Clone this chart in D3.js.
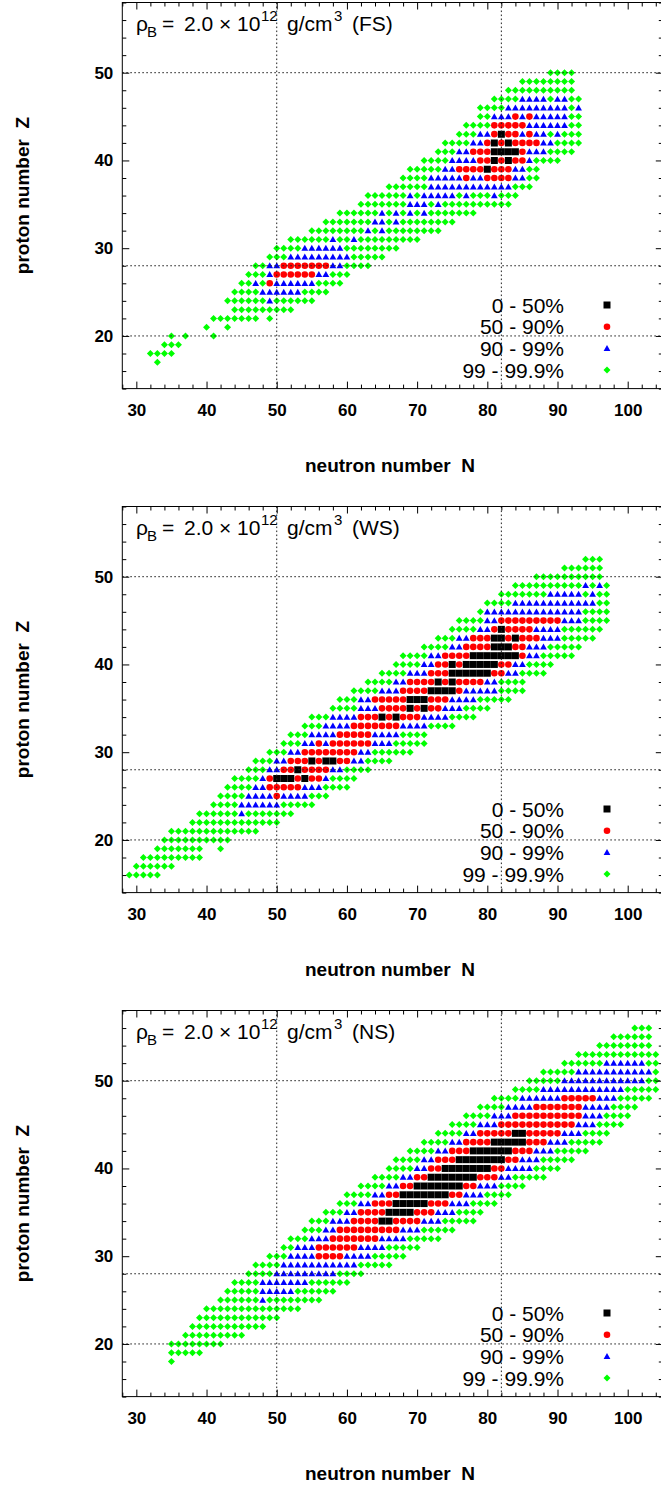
<!DOCTYPE html>
<html><head><meta charset="utf-8">
<script src="https://cdn.jsdelivr.net/npm/d3@7"></script>
<style>body{margin:0;background:#fff}svg{display:block}</style>
</head><body>
<svg id="c" width="661" height="1486"></svg>
<script>
// ---------- data ----------
const categories = ["0 - 50%", "50 - 90%", "90 - 99%", "99 - 99.9%"];
const categoryCodes = ["k", "r", "b", "g"];
const categoryColors = ["#000000", "#ff0000", "#0000ff", "#00ff00"];
const panelNames = ["FS", "WS", "NS"];
const xTickValues = [30, 40, 50, 60, 70, 80, 90, 100];
const yTickValues = [20, 30, 40, 50];
const gridN = [50, 82];
const gridZ = [20, 28, 50];

// each row: [Z, first N, category code per successive N ('.' = none)]
const rowsFS = [
  [17,33,"g"],[18,32,"gggg"],[19,34,"ggg"],[20,35,"g.g...g"],[21,40,"g..g"],
  [22,41,"ggggggg.g"],[23,44,"ggggggggg"],[24,43,"ggggggbgggggg"],
  [25,44,"ggggbbbbbbgggg"],[26,45,"ggbgrbbbbbbgggg"],[27,46,"gggbrrrrrrbbggg"],
  [28,47,"ggbbrrrrrrrbbgggg"],[29,49,"gggbbbbbbbbbggggg"],[30,50,"ggggbbbbbbgggggggg"],
  [31,52,"ggggggbggbggggggggg"],[32,55,"ggggggggbgbgggggggg"],[33,57,"gggggggbbgbgggggggg"],
  [34,59,"ggggggbgbgbgbggggggg"],[35,62,"gggggggbbbgbgggggggggg"],
  [36,63,"ggggggbgbbbbbgbgggbggg"],[37,66,"ggggggbbbbbbbbbbbbggg"],
  [38,68,"ggggbbbbbrbbrrrrbbgg"],[39,69,"gggggbbrrrrkrrrbbgg"],
  [40,71,"ggggbbbbrrkrkrrbgggg"],[41,73,"gggbbrrrkkkkrbbbgggg"],
  [42,74,"ggggbbrkrkrrrrbbgggg"],[43,76,"gggbbrkrrbrbbgbggg"],
  [44,77,"ggggrrrrrbbbbbbgg"],[45,79,"ggbbbrbrbbbbbgg"],[46,79,"ggggbbbbbbbbbgb"],
  [47,81,"ggggbbbbgbbgg"],[48,83,"gggggggggg"],[49,85,"gggggggg"],[50,89,"gggg"]
];
const rowsWS = [
  [16,29,"ggggg"],[17,30,"gggggg"],[18,31,"ggggggggg"],[19,33,"ggggggg..g"],
  [20,34,"gggggggggg"],[21,35,"ggggggggggggg"],[22,38,"ggggggggggggg"],
  [23,39,"ggggggbggggggg"],[24,41,"ggggbbbbbbggggg"],[25,42,"ggggbbbbrbbbbggg"],
  [26,43,"ggggbbrrrrrbbbgggg"],[27,44,"ggggbrkkkrkrrbgggg"],[28,46,"gggbbrrkrrrrbbgggg"],
  [29,47,"gggbbrrrkrkkrrbbgggg"],[30,49,"gggbbrrrrrrrrbbgggggg"],
  [31,51,"gggbbrbrrrrrrbbbggggg"],[32,52,"gggbbbbrrrrrbbbbgggg"],
  [33,54,"gggbbbbrrrrrrrbbbbgggg"],[34,55,"gggbbbbrrrkrkrrrbbbbgggg"],
  [35,58,"ggggbbbrrrrkrkrrbbbgggg"],[36,59,"gggbbrrrrrkkkrrrbbbbggggg"],
  [37,61,"ggggbbbrrrrkkkkrbbbbbgggg"],[38,63,"ggggbbrrrrkrkrrrrbbgggg"],
  [39,65,"ggggbbbrrrkkkkkkrrbbgggg"],[40,67,"ggggbbrrkrkkkkkrrbbgggg"],
  [41,68,"ggggbbrrrrkkkkkkkrbbggggg"],[42,71,"ggggbbrrrrkkkrrbbbggggg"],
  [43,73,"gggbbrrrkkrkrrrbbbggggg"],[44,75,"ggggbbrkrrrrbbbbgggggg"],
  [45,76,"ggggbbrrrrrrrrrbbbgggg"],[46,79,"gbbbbbbbbbbbbbbgggg"],
  [47,80,"ggggbbbbbbbbbbbbgg"],[48,82,"gggggggbbbbbgbgg"],[49,84,"ggggggggggbgbg"],
  [50,87,"gggggggggg"],[51,91,"gggggg"],[52,94,"ggg"]
];
const rowsNS = [
  [18,35,"g"],[19,35,"ggggg"],[20,35,"gggggggg"],[21,37,"ggggggggg"],
  [22,38,"ggggggggggg"],[23,39,"gggggggggggg"],[24,40,"gggggggggggggg"],
  [25,42,"ggggggbgggggggg"],[26,43,"gggggbbbbbgggggg"],[27,44,"ggggbbbbbbbgggggg"],
  [28,46,"ggggbbbbbbbbbgggg"],[29,47,"ggggbbbbbbbbbbbggggg"],
  [30,49,"gggbbbbrrrrbbbbggggg"],[31,51,"ggbbbrrrrrrbbbbggggg"],
  [32,52,"gggbbbrrrrrrrbbbbggggg"],[33,54,"gggbbrrrrrrrrrbbbggggg"],
  [34,55,"gggbbbrrrrkkrrrrbbbggggg"],[35,57,"gggbbrrrrkkkkrrrbbbgggg"],
  [36,59,"gggbbrrrkkkkkrrrbbbgggg"],[37,60,"ggggbbrrkkkkkkkrrbbbgggg"],
  [38,62,"ggggbbrrkkkkkkkrrbbbgggg"],[39,64,"ggggbbrrkkkkkkkrrrbbggggg"],
  [40,66,"ggggbbrrkkkkkkkrrbbbbgggg"],[41,67,"ggggbbrrrkkkkkkkrrbbbggggg"],
  [42,69,"ggggbbrrrkkkkkkrrrbbbggggg"],[43,71,"ggggbbrrrrkkkkkrrrbbbggggg"],
  [44,73,"ggggbbrrrrrkkrrrrrbbbgggg"],[45,75,"ggggbbbrrrrrrrrrrrbbbgggg"],
  [46,77,"ggggbbbrrrrrrrrrrbbbgggg"],[47,79,"ggggbbbbrrrrrrrbbbbgggg"],
  [48,81,"ggggbbbbbbrrrrrbbbggggg"],[49,84,"ggggbbbbbbbbbbbbggggg"],
  [50,86,"gggggbbbbbbbbbbbbgg"],[51,88,"gggggbbbbbbbbbbbg"],[52,91,"ggggggbbbbbbgg"],
  [53,93,"gggggggggggg"],[54,96,"gggggggg"],[55,98,"gggggg"],[56,101,"ggg"]
];
const panelRows = [rowsFS, rowsWS, rowsNS];

// ---------- layout ----------
const FONT = "'Liberation Sans', Arial, Helvetica, sans-serif";
const panelStep = 504;
const x = d3.scaleLinear().domain([28, 105]).range([122.3, 662.8]);
const y = d3.scaleLinear().domain([14, 58]).range([388.6, 2.5]);
const svg = d3.select("#c");

function expand(rows) {
  const pts = [];
  rows.forEach(([Z, N0, s]) => {
    for (let i = 0; i < s.length; i++) {
      const c = s[i];
      if (c === ".") continue;
      pts.push({N: N0 + i, Z: Z, cat: categoryCodes.indexOf(c)});
    }
  });
  return pts;
}

function shape(cat) {
  const p = d3.path();
  if (cat === 0) { p.rect(-3.5, -3.5, 7, 7); }
  else if (cat === 1) { p.arc(0, 0, 3.3, 0, 2 * Math.PI); }
  else if (cat === 2) { p.moveTo(0, -3.4); p.lineTo(3.4, 2.6); p.lineTo(-3.4, 2.6); p.closePath(); }
  else { p.moveTo(0, -3.5); p.lineTo(3.5, 0); p.lineTo(0, 3.5); p.lineTo(-3.5, 0); p.closePath(); }
  return p.toString();
}

panelNames.forEach((name, pi) => {
  const g = svg.append("g").attr("transform", `translate(0,${pi * panelStep})`);
  const pts = expand(panelRows[pi]);
  const [x0, x1] = x.range();
  const [yb, yt] = y.range();

  const clipId = "clip" + pi;
  g.append("clipPath").attr("id", clipId).append("rect")
    .attr("x", x0).attr("y", yt).attr("width", x1 - x0).attr("height", yb - yt);
  const pg = g.append("g").attr("clip-path", `url(#${clipId})`);
  [3, 2, 1, 0].forEach(cat => {
    pg.selectAll(null).data(pts.filter(d => d.cat === cat)).enter().append("path")
      .attr("d", shape(cat))
      .attr("transform", d => `translate(${x(d.N)},${y(d.Z)})`)
      .attr("fill", categoryColors[cat]);
  });

  // grid (dotted)
  gridN.forEach(n => g.append("line").attr("x1", x(n)).attr("x2", x(n)).attr("y1", yt).attr("y2", yb)
    .attr("stroke", "#222").attr("stroke-width", 1).attr("stroke-dasharray", "1.6,2.4"));
  gridZ.forEach(z => g.append("line").attr("x1", x0).attr("x2", x1).attr("y1", y(z)).attr("y2", y(z))
    .attr("stroke", "#222").attr("stroke-width", 1).attr("stroke-dasharray", "1.6,2.4"));

  // axes
  const xMinor = d3.range(28, 106, 2).filter(v => !xTickValues.includes(v));
  const yMinor = d3.range(14, 59, 2).filter(v => !yTickValues.includes(v));
  const styleAxis = sel => {
    sel.select(".domain").remove();
    sel.selectAll("line").attr("stroke", "#000");
    sel.selectAll("text").attr("font-family", FONT).attr("font-size", 17).attr("font-weight", "bold").attr("fill", "#000");
  };
  g.append("g").attr("transform", `translate(0,${yb})`)
    .call(d3.axisBottom(x).tickValues(xTickValues).tickSize(-7).tickPadding(15).tickFormat(d3.format("d"))).call(styleAxis);
  g.append("g").attr("transform", `translate(0,${yb})`)
    .call(d3.axisBottom(x).tickValues(xMinor).tickSize(-4).tickFormat("")).call(styleAxis);
  g.append("g").attr("transform", `translate(0,${yt})`)
    .call(d3.axisTop(x).tickValues(xTickValues).tickSize(-7).tickFormat("")).call(styleAxis);
  g.append("g").attr("transform", `translate(0,${yt})`)
    .call(d3.axisTop(x).tickValues(xMinor).tickSize(-4).tickFormat("")).call(styleAxis);
  g.append("g").attr("transform", `translate(${x0},0)`)
    .call(d3.axisLeft(y).tickValues(yTickValues).tickSize(-7).tickPadding(9).tickFormat(d3.format("d"))).call(styleAxis);
  g.append("g").attr("transform", `translate(${x0},0)`)
    .call(d3.axisLeft(y).tickValues(yMinor).tickSize(-4).tickFormat("")).call(styleAxis);
  g.append("g").attr("transform", `translate(${x1},0)`)
    .call(d3.axisRight(y).tickValues(yTickValues).tickSize(-7).tickFormat("")).call(styleAxis);
  g.append("g").attr("transform", `translate(${x1},0)`)
    .call(d3.axisRight(y).tickValues(yMinor).tickSize(-4).tickFormat("")).call(styleAxis);

  // frame
  g.append("rect").attr("x", x0).attr("y", yt).attr("width", x1 - x0).attr("height", yb - yt)
    .attr("fill", "none").attr("stroke", "#000").attr("stroke-width", 1);

  // axis titles
  g.append("text").attr("x", 390).attr("y", 472).attr("text-anchor", "middle")
    .attr("font-family", FONT).attr("font-size", 19).attr("font-weight", "bold")
    .attr("xml:space", "preserve").text("neutron number  N");
  g.append("text").attr("transform", `translate(29,${(yb + yt) / 2}) rotate(-90)`).attr("text-anchor", "middle")
    .attr("font-family", FONT).attr("font-size", 19).attr("font-weight", "bold")
    .attr("xml:space", "preserve").text("proton number  Z");

  // title
  const t = g.append("text").attr("font-family", FONT).attr("font-size", 21).attr("fill", "#000");
  const pieces = [
    ["ρ", 136, 31, 21], ["B", 147, 37, 15], ["=", 162, 31, 21], ["2.0", 184, 31, 21],
    ["×", 219, 31, 21], ["10", 237, 31, 21], ["12", 261, 21, 15], ["g/cm", 287, 31, 21],
    ["3", 334, 21, 15], ["(" + name + ")", 352, 31, 21]
  ];
  pieces.forEach(([s, px, py, fs]) => t.append("tspan").attr("x", px).attr("y", py).attr("font-size", fs).text(s));

  // legend
  categories.forEach((lab, ci) => {
    const ly = 305 + ci * 21.7;
    g.append("text").attr("x", 564).attr("y", ly + 7.5).attr("text-anchor", "end")
      .attr("font-family", FONT).attr("font-size", 21).attr("fill", "#000").text(lab);
    g.append("path").attr("d", shape(ci)).attr("transform", `translate(607,${ly})`).attr("fill", categoryColors[ci]);
  });
});
</script>
</body></html>
